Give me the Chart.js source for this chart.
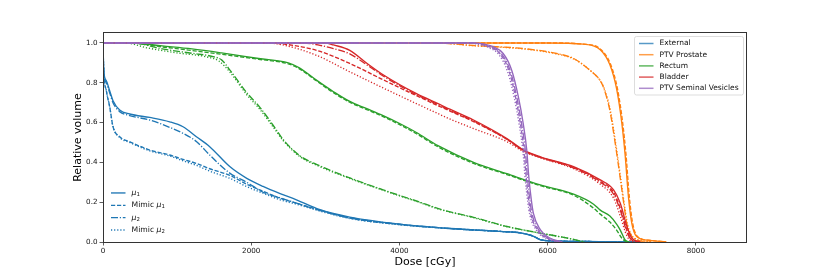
<!DOCTYPE html>
<html>
<head>
<meta charset="utf-8">
<script src="https://cdn.jsdelivr.net/npm/chart.js@4/dist/chart.umd.min.js"></script>
<style>
html, body { margin: 0; padding: 0; background: #fff; }
#wrap { width: 830px; height: 277px; position: relative; }
</style>
</head>
<body>
<div id="wrap"><canvas id="dvh_chart"></canvas></div>
<script>
// ticks
var doseTicks = [0, 2000, 4000, 6000, 8000];
var volumeTicks = [0, 0.2, 0.4, 0.6, 0.8, 1.0];

var structures = ['External', 'PTV Prostate', 'Rectum', 'Bladder', 'PTV Seminal Vesicles'];
var structureColors = ['#1f77b4', '#ff7f0e', '#2ca02c', '#d62728', '#9467bd'];
var variantNames = ['μ₁', 'Mimic μ₁', 'μ₂', 'Mimic μ₂'];
var variantDash = [[], [4.2, 1.8], [7, 1.8, 1.2, 1.8], [1.2, 1.9]];

// DVH curves, [dose cGy, relative volume]
var externalMu1 = [[0,1],[10,0.86],[45,0.81],[90,0.76],[135,0.71],[225,0.663],[360,0.643],[630,0.626],[900,0.604],[1080,0.579],[1260,0.529],[1440,0.479],[1710,0.379],[1940,0.32],[2160,0.279],[2390,0.243],[2610,0.212],[2930,0.162],[3330,0.125],[4000,0.09],[4690,0.068],[5360,0.053],[5630,0.046],[5800,0.03],[5900,0.012],[6100,0.005],[6700,0.002],[7200,0]];
var externalMimicMu1 = [[0,1],[10,0.86],[45,0.76],[90,0.68],[135,0.58],[225,0.529],[360,0.504],[630,0.462],[900,0.437],[1080,0.415],[1260,0.395],[1440,0.368],[1710,0.335],[1940,0.29],[2160,0.255],[2390,0.22],[2610,0.195],[2930,0.16],[3330,0.12],[4000,0.088],[4690,0.067],[5360,0.053],[5630,0.046],[5800,0.03],[5900,0.012],[6100,0.005],[6700,0.002],[7200,0]];
var externalMu2 = [[0,1],[10,0.86],[45,0.8],[90,0.75],[135,0.7],[225,0.655],[360,0.635],[630,0.613],[900,0.576],[1080,0.546],[1260,0.505],[1440,0.437],[1710,0.346],[1940,0.3],[2160,0.25],[2390,0.222],[2610,0.195],[2930,0.158],[3330,0.122],[4000,0.089],[4690,0.068],[5360,0.053],[5630,0.046],[5800,0.03],[5900,0.012],[6100,0.005],[6700,0.002],[7200,0]];
var externalMimicMu2 = [[0,1],[10,0.86],[45,0.76],[90,0.68],[135,0.58],[225,0.525],[360,0.5],[630,0.458],[900,0.432],[1080,0.408],[1260,0.385],[1440,0.356],[1710,0.32],[1940,0.278],[2160,0.245],[2390,0.212],[2610,0.19],[2930,0.155],[3330,0.118],[4000,0.087],[4690,0.067],[5360,0.053],[5630,0.046],[5800,0.03],[5900,0.012],[6100,0.005],[6700,0.002],[7200,0]];

var prostateMu1 = [[0,1],[6000,1],[6480,0.994],[6710,0.966],[6840,0.89],[6930,0.77],[7000,0.6],[7045,0.44],[7090,0.228],[7135,0.095],[7200,0.028],[7380,0.008],[7600,0]];
var prostateMimicMu1 = [[0,1],[6000,1],[6490,0.994],[6722,0.966],[6852,0.89],[6942,0.77],[7012,0.6],[7057,0.44],[7102,0.228],[7147,0.095],[7212,0.028],[7390,0.008],[7600,0]];
var prostateMu2 = [[0,1],[4500,1],[5000,0.987],[5670,0.972],[6120,0.947],[6350,0.922],[6570,0.863],[6710,0.81],[6760,0.77],[6840,0.66],[6910,0.5],[6980,0.32],[7040,0.16],[7070,0.09],[7160,0.02],[7400,0]];
var prostateMimicMu2 = [[0,1],[4500,1],[5000,0.986],[5670,0.97],[6120,0.945],[6350,0.92],[6580,0.86],[6720,0.805],[6770,0.765],[6850,0.655],[6920,0.49],[6990,0.31],[7050,0.15],[7080,0.085],[7170,0.02],[7400,0]];

var rectumMu1 = [[0,1],[400,1],[800,0.985],[1200,0.97],[1600,0.95],[2100,0.922],[2500,0.9],[2650,0.875],[2880,0.813],[3110,0.755],[3330,0.706],[3560,0.67],[3780,0.635],[4010,0.594],[4230,0.55],[4520,0.484],[5000,0.4],[5450,0.343],[5900,0.287],[6350,0.24],[6620,0.19],[6710,0.16],[6840,0.13],[6930,0.09],[6980,0.06],[7045,0.01],[7100,0]];
var rectumMimicMu1 = [[0,1],[350,1],[800,0.98],[1200,0.962],[1600,0.943],[2100,0.918],[2500,0.895],[2650,0.87],[2880,0.81],[3110,0.75],[3330,0.702],[3560,0.665],[3780,0.63],[4010,0.588],[4230,0.544],[4520,0.478],[5000,0.395],[5450,0.339],[5900,0.283],[6350,0.235],[6620,0.17],[6710,0.14],[6840,0.1],[6930,0.06],[7000,0.02],[7060,0]];
var rectumMu2 = [[0,1],[400,1],[800,0.97],[1200,0.948],[1500,0.93],[1600,0.915],[1710,0.865],[1940,0.75],[2120,0.675],[2340,0.563],[2430,0.515],[2660,0.432],[2880,0.39],[3330,0.322],[3780,0.262],[4010,0.233],[4230,0.206],[4550,0.165],[4700,0.15],[5000,0.124],[5450,0.078],[5900,0.045],[6260,0.02],[6500,0]];
var rectumMimicMu2 = [[0,1],[300,1],[600,0.975],[1000,0.95],[1400,0.93],[1560,0.91],[1710,0.855],[1940,0.74],[2120,0.665],[2340,0.555],[2430,0.51],[2660,0.428],[2880,0.386],[3330,0.319],[3780,0.26],[4010,0.231],[4230,0.204],[4550,0.163],[4700,0.149],[5000,0.122],[5450,0.077],[5900,0.044],[6260,0.02],[6500,0]];

var bladderMu1 = [[0,1],[3000,1],[3110,0.99],[3330,0.963],[3560,0.898],[3780,0.84],[4230,0.745],[4550,0.69],[4680,0.667],[5000,0.613],[5450,0.52],[5670,0.463],[5900,0.428],[6350,0.379],[6710,0.312],[6890,0.262],[6980,0.195],[7070,0.078],[7135,0.02],[7250,0]];
var bladderMimicMu1 = [[0,1],[2200,1],[2430,0.995],[2880,0.963],[3330,0.897],[3780,0.815],[4230,0.735],[4680,0.658],[5000,0.605],[5450,0.516],[5670,0.46],[5900,0.426],[6350,0.375],[6710,0.305],[6890,0.25],[6980,0.17],[7070,0.06],[7135,0.01],[7250,0]];
var bladderMu2 = [[0,1],[2700,1],[2900,0.99],[3110,0.972],[3330,0.945],[3560,0.89],[3780,0.834],[4230,0.74],[4550,0.685],[4680,0.662],[5000,0.608],[5450,0.516],[5670,0.46],[5900,0.425],[6350,0.372],[6710,0.3],[6890,0.24],[6980,0.16],[7070,0.05],[7135,0.01],[7250,0]];
var bladderMimicMu2 = [[0,1],[2200,1],[2430,0.99],[2880,0.938],[3330,0.855],[3780,0.774],[4230,0.695],[4550,0.64],[4680,0.618],[5000,0.57],[5450,0.504],[5670,0.455],[5900,0.423],[6350,0.368],[6710,0.29],[6890,0.22],[6980,0.13],[7070,0.03],[7135,0.003],[7250,0]];

var vesiclesMu1 = [[0,1],[5000,1],[5090,0.998],[5270,0.98],[5400,0.947],[5515,0.863],[5605,0.729],[5670,0.596],[5718,0.462],[5745,0.33],[5780,0.21],[5807,0.145],[5900,0.062],[6030,0.02],[6200,0]];
var vesiclesMimicMu1 = [[0,1],[4960,1],[5050,0.997],[5235,0.977],[5365,0.942],[5480,0.858],[5570,0.722],[5635,0.588],[5683,0.452],[5712,0.32],[5748,0.2],[5775,0.138],[5870,0.056],[6000,0.018],[6170,0]];
var vesiclesMu2 = [[0,1],[4980,1],[5070,0.997],[5250,0.978],[5380,0.944],[5495,0.86],[5585,0.725],[5650,0.59],[5700,0.455],[5727,0.325],[5762,0.205],[5790,0.14],[5885,0.058],[6015,0.018],[6180,0]];
var vesiclesMimicMu2 = [[0,1],[4940,1],[5030,0.996],[5215,0.975],[5345,0.94],[5460,0.855],[5552,0.72],[5618,0.585],[5668,0.45],[5697,0.318],[5733,0.198],[5760,0.135],[5855,0.055],[5985,0.017],[6150,0]];

var dvhCurves = [
    [externalMu1, externalMimicMu1, externalMu2, externalMimicMu2],
    [prostateMu1, prostateMimicMu1, prostateMu2, prostateMimicMu2],
    [rectumMu1, rectumMimicMu1, rectumMu2, rectumMimicMu2],
    [bladderMu1, bladderMimicMu1, bladderMu2, bladderMimicMu2],
    [vesiclesMu1, vesiclesMimicMu1, vesiclesMu2, vesiclesMimicMu2]
];

var fontFamily = "'DejaVu Sans', sans-serif";

function getDatasets(){
    var sets = [];
    for(var s = 0; s < structures.length; s++){
        for(var v = 0; v < variantNames.length; v++){
            sets.push({
                label: structures[s] + ' ' + variantNames[v],
                data: dvhCurves[s][v].map(function(p){ return {x: p[0], y: p[1]}; }),
                borderColor: structureColors[s],
                borderWidth: 1.35,
                borderDash: variantDash[v],
                pointRadius: 0,
                fill: false,
                cubicInterpolationMode: 'monotone',
                order: 100 - (s * 4 + v)
            });
        }
    }
    return sets;
}

// writes "Mimic μ₁" with italic mu and a small subscript, like mathtext
function drawLabel(ctx, text, x, y, size){
    var subs = {'₁': '1', '₂': '2'};
    for(var i = 0; i < text.length; i++){
        var ch = text[i];
        if(subs[ch]){
            ctx.font = (size * 0.7) + 'px ' + fontFamily;
            ctx.fillText(subs[ch], x, y + size * 0.22);
            x += ctx.measureText(subs[ch]).width;
        } else {
            ctx.font = (ch === 'μ' ? 'italic ' : '') + size + 'px ' + fontFamily;
            ctx.fillText(ch, x, y);
            x += ctx.measureText(ch).width;
        }
    }
}

var framePlugin = {
    id: 'frameAndLegends',
    afterDraw: function(chart){
        var ctx = chart.ctx;
        var a = chart.chartArea;
        ctx.save();
        ctx.setLineDash([]);
        ctx.strokeStyle = '#333';
        ctx.lineWidth = 1;
        var l = Math.round(a.left) + 0.5, t = Math.round(a.top) - 0.5;
        var r = Math.round(a.right) - 0.5, b = Math.round(a.bottom) + 0.5;
        ctx.strokeRect(l, t, r - l, b - t);

        // structure legend (upper right)
        var bw = 109, bh = 58.5;
        var bx = a.right - 3.5 - bw, by = a.top + 3.5;
        ctx.fillStyle = 'rgba(255,255,255,0.85)';
        ctx.strokeStyle = '#d4d4d4';
        ctx.lineWidth = 0.8;
        ctx.beginPath();
        ctx.roundRect(bx, by, bw, bh, 2);
        ctx.fill();
        ctx.stroke();
        ctx.textBaseline = 'middle';
        ctx.textAlign = 'left';
        ctx.font = '7.5px ' + fontFamily;
        for(var i = 0; i < structures.length; i++){
            var ry = by + 7 + i * 11.2;
            ctx.strokeStyle = structureColors[i];
            ctx.globalAlpha = 0.75;
            ctx.lineWidth = 1.5;
            ctx.beginPath();
            ctx.moveTo(bx + 4.5, ry);
            ctx.lineTo(bx + 19, ry);
            ctx.stroke();
            ctx.globalAlpha = 1;
            ctx.fillStyle = '#111';
            ctx.fillText(structures[i], bx + 25, ry);
        }

        // line style legend (lower left)
        for(var v = 0; v < variantNames.length; v++){
            var sy = a.bottom - 12 - (variantNames.length - 1 - v) * 12.35;
            ctx.strokeStyle = structureColors[0];
            ctx.lineWidth = 1.35;
            ctx.setLineDash(variantDash[v]);
            ctx.beginPath();
            ctx.moveTo(a.left + 8, sy);
            ctx.lineTo(a.left + 22.5, sy);
            ctx.stroke();
            ctx.setLineDash([]);
            ctx.fillStyle = '#111';
            drawLabel(ctx, variantNames[v], a.left + 28.5, sy, 7.7);
        }
        ctx.restore();
    }
};

var tickFont = {family: fontFamily, size: 7.2};
var titleFont = {family: fontFamily, size: 11};

var config = {
    type: 'line',
    data: { datasets: getDatasets() },
    options: {
        responsive: true,
        maintainAspectRatio: false,
        animation: false,
        events: [],
        layout: { padding: { top: 33, right: 83, left: 0, bottom: 0 } },
        plugins: { legend: { display: false }, tooltip: { enabled: false } },
        scales: {
            x: {
                type: 'linear',
                min: 0,
                max: 8690,
                afterBuildTicks: function(axis){ axis.ticks = doseTicks.map(function(v){ return {value: v}; }); },
                afterFit: function(axis){ axis.height = 35; },
                ticks: { font: tickFont, color: '#111', padding: 1, maxRotation: 0, callback: function(v){ return String(v); } },
                grid: { drawOnChartArea: false, drawTicks: true, tickLength: 3.5, color: '#333', tickWidth: 0.8 },
                border: { display: false },
                title: { display: true, text: 'Dose [cGy]', font: titleFont, color: '#000', padding: {top: 0, bottom: 8.7} }
            },
            y: {
                type: 'linear',
                min: 0,
                max: 1.05,
                afterBuildTicks: function(axis){ axis.ticks = volumeTicks.map(function(v){ return {value: v}; }); },
                afterFit: function(axis){ axis.width = 103; },
                ticks: { font: tickFont, color: '#111', padding: 2, callback: function(v){ return v.toFixed(1); } },
                grid: { drawOnChartArea: false, drawTicks: true, tickLength: 3.5, color: '#333', tickWidth: 0.8 },
                border: { display: false },
                title: { display: true, text: 'Relative volume', font: titleFont, color: '#000', padding: {top: 71.4, bottom: 0} }
            }
        }
    },
    plugins: [framePlugin]
};

var chart = new Chart(document.getElementById('dvh_chart').getContext('2d'), config);
</script>
</body>
</html>
